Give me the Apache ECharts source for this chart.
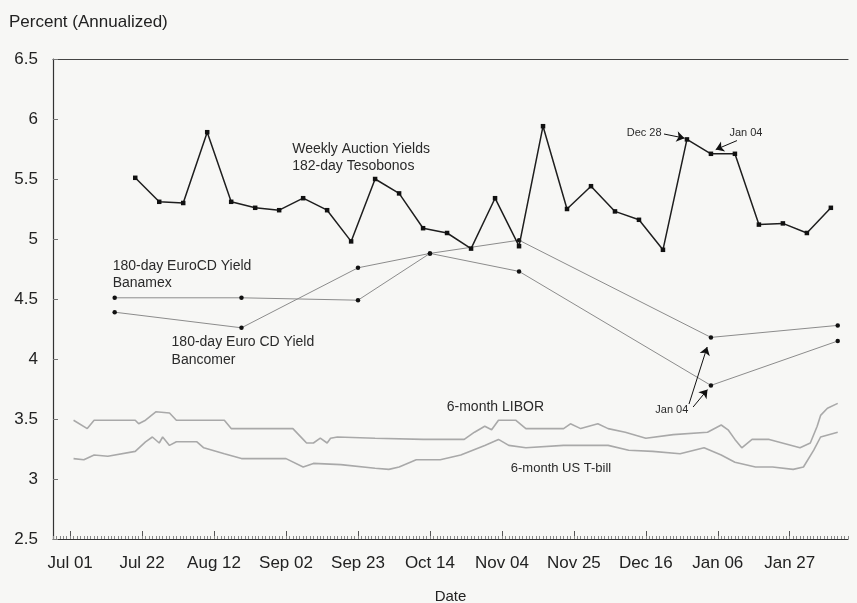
<!DOCTYPE html>
<html><head><meta charset="utf-8">
<script src="https://cdn.jsdelivr.net/npm/echarts@6/dist/echarts.min.js"></script>
<style>html,body{margin:0;padding:0;background:#f7f7f5;} #c{width:857px;height:603px;}</style>
</head><body><div id="c"></div>
<script>
// x values are days counted from Jul 01 (1994)
const tickDays = [0, 21, 42, 63, 84, 105, 126, 147, 168, 189, 210];
const tickLabels = ['Jul 01', 'Jul 22', 'Aug 12', 'Sep 02', 'Sep 23', 'Oct 14', 'Nov 04', 'Nov 25', 'Dec 16', 'Jan 06', 'Jan 27'];

const tesoDays = [19, 26, 33, 40, 47, 54, 61, 68, 75, 82, 89, 96, 103, 110, 117, 124, 131, 138, 145, 152, 159, 166, 173, 180, 187, 194, 201, 208, 215, 222];
const tesoVals = [5.51, 5.31, 5.30, 5.89, 5.31, 5.26, 5.24, 5.34, 5.24, 4.98, 5.50, 5.38, 5.09, 5.05, 4.92, 5.34, 4.94, 5.94, 5.25, 5.44, 5.23, 5.16, 4.91, 5.83, 5.71, 5.71, 5.12, 5.13, 5.05, 5.26];

const euroDays = [13, 50, 84, 105, 131, 187, 224];
const banamexVals = [4.51, 4.51, 4.49, 4.88, 4.73, 3.78, 4.15];
const bancomerVals = [4.39, 4.26, 4.76, 4.88, 4.99, 4.18, 4.28];

const liborDays = [1, 5, 7, 19, 20, 22, 25, 29, 31, 45, 47, 65, 68, 69, 71, 73, 75, 76, 78, 89, 103, 108, 115, 118, 121, 123, 125, 130, 133, 144, 146, 149, 154, 157, 162, 168, 176, 186, 190, 192, 194, 196, 199, 204, 213, 216, 218, 219, 221, 224];
const liborVals = [3.49, 3.42, 3.49, 3.49, 3.46, 3.49, 3.56, 3.55, 3.49, 3.49, 3.42, 3.42, 3.33, 3.30, 3.30, 3.34, 3.30, 3.34, 3.35, 3.34, 3.33, 3.33, 3.33, 3.39, 3.44, 3.41, 3.49, 3.49, 3.42, 3.42, 3.46, 3.42, 3.46, 3.42, 3.39, 3.34, 3.37, 3.39, 3.45, 3.41, 3.33, 3.26, 3.33, 3.33, 3.26, 3.30, 3.44, 3.53, 3.59, 3.63];

const tbillDays = [1, 4, 7, 11, 19, 22, 24, 26, 27, 29, 31, 37, 39, 45, 50, 63, 68, 71, 79, 89, 93, 96, 101, 108, 114, 121, 125, 128, 133, 144, 157, 163, 170, 178, 185, 190, 194, 200, 205, 211, 214, 217, 219, 224];
const tbillVals = [3.17, 3.16, 3.20, 3.19, 3.23, 3.31, 3.35, 3.30, 3.35, 3.28, 3.31, 3.31, 3.26, 3.21, 3.17, 3.17, 3.10, 3.13, 3.12, 3.09, 3.08, 3.10, 3.16, 3.16, 3.20, 3.28, 3.33, 3.28, 3.26, 3.28, 3.28, 3.24, 3.23, 3.21, 3.26, 3.20, 3.14, 3.10, 3.10, 3.08, 3.10, 3.24, 3.35, 3.39];

// annotation texts: [text, day, value, align, size]
const notes = [
  ['Weekly Auction Yields', 64.8, 5.75, 'left', 14],
  ['182-day Tesobonos', 64.8, 5.605, 'left', 14],
  ['180-day EuroCD Yield', 12.4, 4.77, 'left', 14],
  ['Banamex', 12.4, 4.63, 'left', 14],
  ['180-day Euro CD Yield', 29.6, 4.14, 'left', 14],
  ['Bancomer', 29.6, 3.99, 'left', 14],
  ['6-month LIBOR', 109.9, 3.60, 'left', 14],
  ['6-month US T-bill', 128.6, 3.09, 'left', 13],
  ['Dec 28', 172.6, 5.88, 'right', 11],
  ['Jan 04', 192.4, 5.88, 'left', 11],
  ['Jan 04', 180.4, 3.575, 'right', 11]
];
// arrows: [fromDay, fromVal, toDay, toVal]
const arrows = [
  [173.3, 5.875, 179.3, 5.84],
  [194.6, 5.82, 188.4, 5.745],
  [180.6, 3.625, 185.9, 4.10],
  [181.8, 3.60, 186.0, 3.745]
];

const zip = (a, b) => a.map((d, i) => [d, b[i]]);
const FONT = '"Liberation Sans", Arial, Helvetica, sans-serif';
const XMIN = -5, XMAX = 227;
const chart = echarts.init(document.getElementById('c'));

const option = {
  backgroundColor: '#f7f7f5',
  animation: false,
  textStyle: { fontFamily: FONT },
  grid: { left: 53, right: 9, top: 59, bottom: 64, containLabel: false, outerBoundsMode: 'none' },
  xAxis: [
    {
      type: 'value', min: XMIN, max: XMAX, position: 'bottom',
      axisLine: { onZero: false, lineStyle: { color: '#333', width: 1.2 } },
      splitLine: { show: false },
      axisTick: { inside: true, length: 8, customValues: tickDays, lineStyle: { color: '#555' } },
      axisLabel: {
        customValues: tickDays,
        formatter: v => { const i = tickDays.indexOf(Math.round(v)); return i >= 0 ? tickLabels[i] : ''; },
        fontSize: 17, color: '#222', fontFamily: FONT, margin: 16
      },
      name: 'Date', nameLocation: 'middle', nameGap: 50,
      nameTextStyle: { fontSize: 15, color: '#222', fontFamily: FONT }
    },
    {
      type: 'value', min: XMIN, max: XMAX, position: 'bottom', interval: 1,
      axisLine: { show: false, onZero: false }, axisLabel: { show: false }, splitLine: { show: false },
      axisTick: { inside: true, length: 3, lineStyle: { color: '#888' } }
    },
    {
      type: 'value', min: XMIN, max: XMAX, position: 'top',
      axisLine: { show: true, onZero: false, lineStyle: { color: '#444', width: 1.2 } },
      axisTick: { show: false }, axisLabel: { show: false }, splitLine: { show: false }
    }
  ],
  yAxis: {
    type: 'value', min: 2.5, max: 6.5, interval: 0.5,
    axisLine: { show: true, onZero: false, lineStyle: { color: '#333', width: 1.2 } },
    axisTick: { show: true, inside: true, length: 5, lineStyle: { color: '#777' } },
    splitLine: { show: false },
    axisLabel: { fontSize: 17, color: '#222', fontFamily: FONT, margin: 15 }
  },
  graphic: [
    { type: 'text', left: 9, top: 14, style: { text: 'Percent (Annualized)', fontSize: 17, fill: '#222', fontFamily: FONT } }
  ],
  series: [
    {
      name: 'LIBOR', type: 'line', data: zip(liborDays, liborVals), symbol: 'none',
      lineStyle: { color: '#a9a9a9', width: 1.6 }, z: 2
    },
    {
      name: 'T-bill', type: 'line', data: zip(tbillDays, tbillVals), symbol: 'none',
      lineStyle: { color: '#a9a9a9', width: 1.6 }, z: 2
    },
    {
      name: 'Banamex', type: 'line', data: zip(euroDays, banamexVals), symbol: 'circle', symbolSize: 4.5,
      lineStyle: { color: '#8c8c8c', width: 1 }, itemStyle: { color: '#111' }, z: 3
    },
    {
      name: 'Bancomer', type: 'line', data: zip(euroDays, bancomerVals), symbol: 'circle', symbolSize: 4.5,
      lineStyle: { color: '#8c8c8c', width: 1 }, itemStyle: { color: '#111' }, z: 3
    },
    {
      name: 'Tesobonos', type: 'line', data: zip(tesoDays, tesoVals), symbol: 'rect', symbolSize: 4.5,
      lineStyle: { color: '#1e1e1e', width: 1.5 }, itemStyle: { color: '#111' }, z: 4,
      markLine: {
        silent: true, symbol: ['none', 'arrow'], symbolSize: 8, animation: false,
        lineStyle: { color: '#111', width: 1, type: 'solid' }, label: { show: false },
        emphasis: { disabled: true },
        data: arrows.map(a => [{ coord: [a[0], a[1]] }, { coord: [a[2], a[3]] }])
      }
    }
  ]
};
chart.setOption(option);

const g = option.graphic.slice();
notes.forEach(n => {
  const p = chart.convertToPixel({ xAxisIndex: 0, yAxisIndex: 0 }, [n[1], n[2]]);
  g.push({ type: 'text', x: p[0], y: p[1], z: 10,
    style: { text: n[0], fontSize: n[4], fill: '#2a2a2a', fontFamily: FONT, align: n[3], verticalAlign: 'middle' } });
});
chart.setOption({ graphic: g });
</script></body></html>
